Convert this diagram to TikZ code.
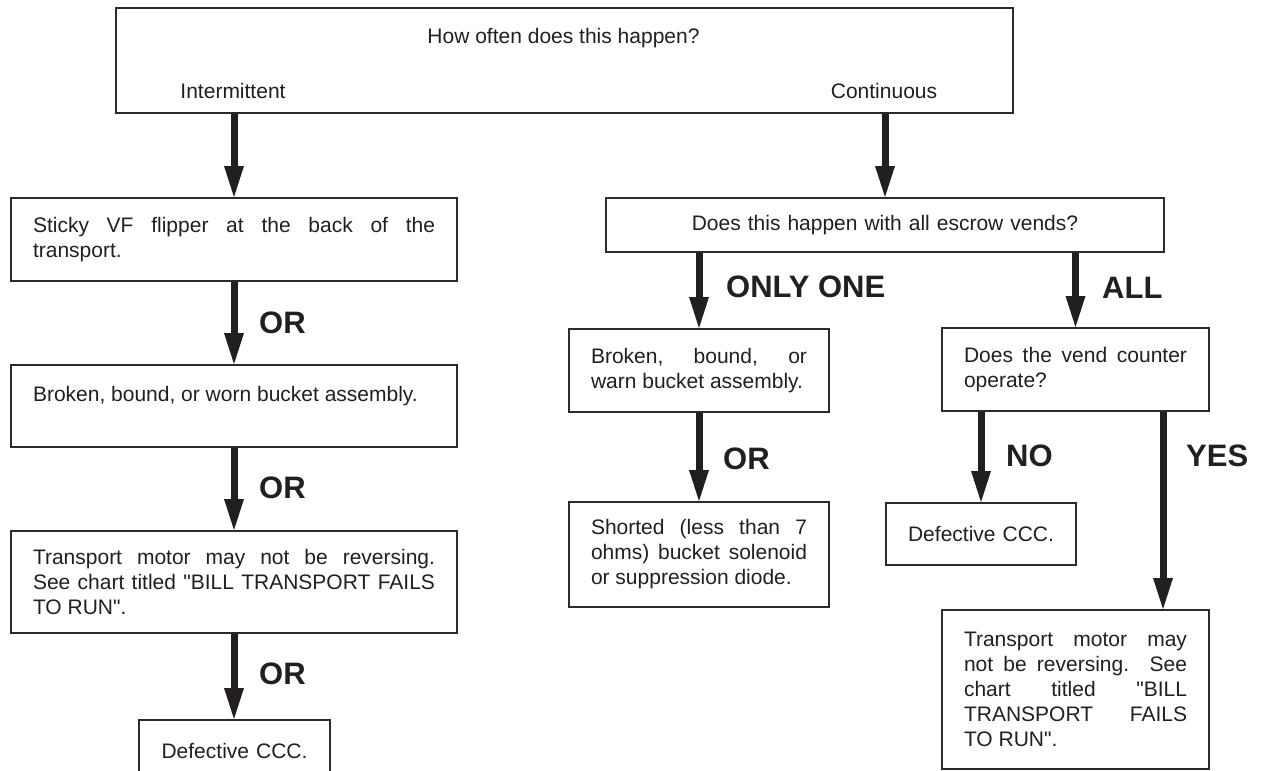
\documentclass[tikz,border=0pt]{standalone}
\usepackage{fontspec}
\setmainfont{Liberation Sans}
\usetikzlibrary{arrows.meta}
\definecolor{ink}{HTML}{231F20}
\definecolor{edge}{HTML}{2B2B2B}
\newcommand\myqmark{\XeTeXglyph\XeTeXcharglyph"22\relax}
\begin{document}
\begin{tikzpicture}[x=1pt,y=-1pt,
  body/.style={font=\fontsize{21}{25}\selectfont, text=ink},
  plainbox/.style={draw=edge, line width=2pt, inner sep=0pt, anchor=north west},
  box/.style={draw=edge, line width=2pt, inner xsep=22pt, inner ysep=0pt, anchor=north west, align=justify, body},
  cbox/.style={box, inner xsep=10pt, align=center},
  lab/.style={font=\fontsize{31}{36}\selectfont\bfseries, text=ink, anchor=base west, inner sep=0pt},
  arr/.style={draw=ink, line width=7pt, -{Triangle[width=20pt,length=31pt,line width=0pt]}},
]
\fill[white] (0,0) rectangle (1261,771);
\useasboundingbox (0,0) rectangle (1261,771);
\clip (0,0) rectangle (1261,771);

% top question
\node[plainbox, minimum width=897pt, minimum height=105pt] (top) at (115,7) {};
\node[body, anchor=base, inner sep=0pt] (q) at (563.5,43) {How often does this happen?};
\node[body, anchor=base, inner sep=0pt] (int) at (233,98) {Intermittent};
\node[body, anchor=base, inner sep=0pt] (cont) at (884,98) {Continuous};

% left column
\node[box, text width=402pt, minimum height=83pt] (sticky) at (10,197)
  {Sticky VF flipper at the back of the\linebreak transport.};
\node[box, text width=402pt, minimum height=82pt] (brk1) at (10,364)
  {Broken, bound, or worn bucket assembly.\\\mbox{}};
\node[box, text width=402pt, minimum height=102pt] (tr1) at (10,530)
  {Transport motor may not be reversing.\linebreak See chart titled \myqmark BILL TRANSPORT FAILS\linebreak TO RUN\myqmark.};
\node[cbox, text width=171pt, minimum height=62pt] (def1) at (138,719) {Defective CCC.};

% middle column
\node[cbox, text width=538pt, minimum height=54pt] (does) at (605,197)
  {Does this happen with all escrow vends?};
\node[box, text width=216pt, minimum height=83pt] (bw) at (568,328)
  {Broken, bound, or\linebreak warn bucket assembly.};
\node[box, text width=216pt, minimum height=105pt] (sh) at (568,501)
  {Shorted (less than 7\linebreak ohms) bucket solenoid\linebreak or suppression diode.};

% right column
\node[box, text width=223pt, minimum height=83pt] (vend) at (941,327)
  {Does the vend counter\linebreak operate?};
\node[cbox, text width=170pt, minimum height=62pt] (def2) at (885,502) {Defective CCC.};
\node[box, text width=223pt, minimum height=159pt] (tr2) at (941,609)
  {Transport motor may\linebreak not be reversing.\ \ See\linebreak chart titled \myqmark BILL\linebreak TRANSPORT FAILS\linebreak TO RUN\myqmark.};
\coordinate (yesx) at (1163,0);

% labels
\node[lab] (or1) at (259,333) {OR};
\node[lab] (or2) at (259,498) {OR};
\node[lab] (or3) at (259,684) {OR};
\node[lab] (only) at (726,297) {ONLY ONE};
\node[lab] (all) at (1102,298) {ALL};
\node[lab] (or4) at (723,469) {OR};
\node[lab] (no) at (1006,466) {NO};
\node[lab] (yes) at (1186,466) {YES};

% connectors
\draw[arr] (top.south -| sticky.north) -- (sticky.north);
\draw[arr] (sticky.south) -- (brk1.north);
\draw[arr] (brk1.south) -- (tr1.north);
\draw[arr] (tr1.south) -- (tr1.south |- def1.north);
\draw[arr] (top.south -| does.north) -- (does.north);
\draw[arr] (does.south -| bw.north) -- (bw.north);
\draw[arr] (does.south -| vend.north) -- (vend.north);
\draw[arr] (bw.south) -- (sh.north);
\draw[arr] (vend.south -| def2.north) -- (def2.north);
\draw[arr] (vend.south -| yesx) -- (tr2.north -| yesx);
\end{tikzpicture}
\end{document}
